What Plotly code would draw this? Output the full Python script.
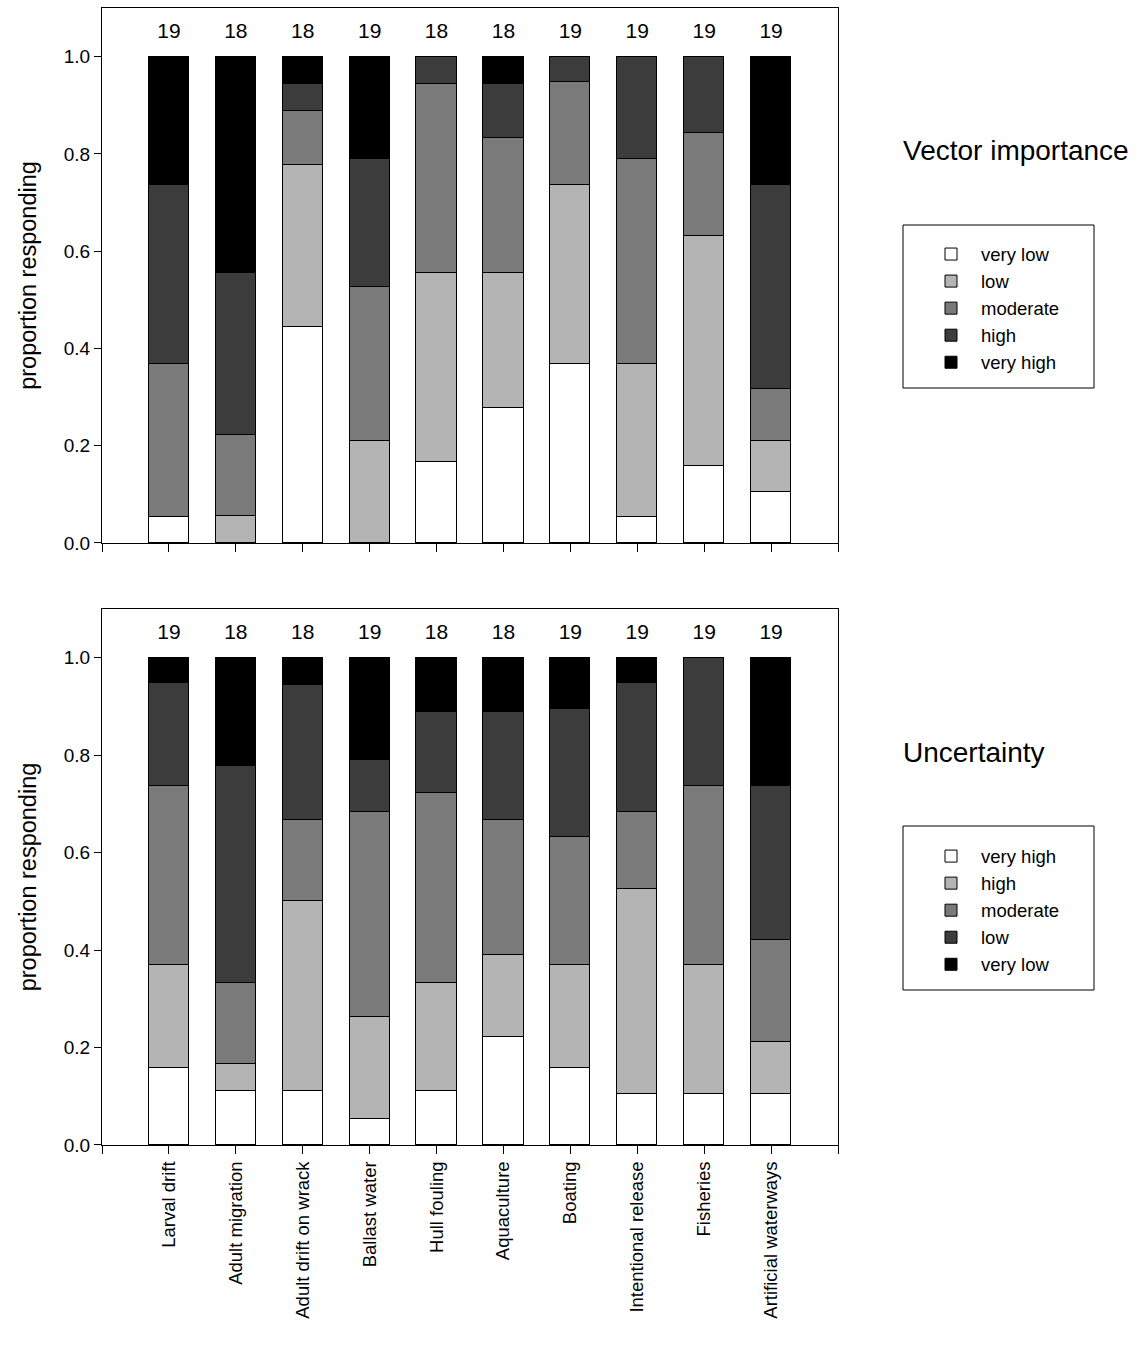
import plotly.graph_objects as go

categories = ["Larval drift", "Adult migration", "Adult drift on wrack", "Ballast water",
              "Hull fouling", "Aquaculture", "Boating", "Intentional release",
              "Fisheries", "Artificial waterways"]
n_respond = [19, 18, 18, 19, 18, 18, 19, 19, 19, 19]

# Vector importance (counts of respondents)
imp_labels = ["very low", "low", "moderate", "high", "very high"]
imp_very_low = [1, 0, 8, 0, 3, 5, 7, 1, 3, 2]
imp_low = [0, 1, 6, 4, 7, 5, 7, 6, 9, 2]
imp_moderate = [6, 3, 2, 6, 7, 5, 4, 8, 4, 2]
imp_high = [7, 6, 1, 5, 1, 2, 1, 4, 3, 8]
imp_very_high = [5, 8, 1, 4, 0, 1, 0, 0, 0, 5]

# Uncertainty (counts of respondents)
unc_labels = ["very high", "high", "moderate", "low", "very low"]
unc_very_high = [3, 2, 2, 1, 2, 4, 3, 2, 2, 2]
unc_high = [4, 1, 7, 4, 4, 3, 4, 8, 5, 2]
unc_moderate = [7, 3, 3, 8, 7, 5, 5, 3, 7, 4]
unc_low = [4, 8, 5, 2, 3, 4, 5, 5, 5, 6]
unc_very_low = [1, 4, 1, 4, 2, 2, 2, 1, 0, 5]

fills = ["#ffffff", "#b4b4b4", "#7a7a7a", "#3c3c3c", "#000000"]
FONT = "Liberation Sans, Arial, sans-serif"

xpos = list(range(len(categories)))

fig = go.Figure()

def add_panel(series, labels, xa, ya, legend):
    for vals, lab, col in zip(series, labels, fills):
        props = [v / n for v, n in zip(vals, n_respond)]
        fig.add_trace(go.Bar(
            x=xpos, y=props, name=lab, width=0.6,
            marker=dict(color=col, line=dict(color="black", width=1)),
            xaxis=xa, yaxis=ya, legend=legend,
            hovertext=categories,
        ))
    fig.add_trace(go.Scatter(
        x=xpos, y=[1.05] * len(xpos), mode="text",
        text=[str(n) for n in n_respond],
        textfont=dict(size=21, color="black", family=FONT),
        xaxis=xa, yaxis=ya, showlegend=False, hoverinfo="skip",
    ))

add_panel([imp_very_low, imp_low, imp_moderate, imp_high, imp_very_high],
          imp_labels, "x", "y", "legend")
add_panel([unc_very_high, unc_high, unc_moderate, unc_low, unc_very_low],
          unc_labels, "x2", "y2", "legend2")

tickvals = list(range(-1, len(categories) + 1))
axis_common = dict(showline=True, linecolor="black", linewidth=1, mirror=True,
                   ticks="outside", tickcolor="black", showgrid=False, zeroline=False)
ytitle = dict(text="proportion responding", font=dict(size=23.5), standoff=20)

fig.update_layout(
    width=1148, height=1347,
    margin=dict(l=102, r=310, t=8, b=202),
    paper_bgcolor="white", plot_bgcolor="white",
    barmode="stack", bargap=0,
    font=dict(family=FONT, size=19, color="black"),
    xaxis=dict(domain=[0, 1], range=[-1, len(categories)], tickvals=tickvals,
               ticktext=[""] * len(tickvals), ticklen=8, anchor="y", **axis_common),
    yaxis=dict(domain=[0.5295, 1.0], range=[0, 1.1], tickvals=[0, 0.2, 0.4, 0.6, 0.8, 1.0],
               tickformat=".1f", ticklen=7, anchor="x", tickfont=dict(size=19),
               title=ytitle, **axis_common),
    xaxis2=dict(domain=[0, 1], range=[-1, len(categories)], tickvals=tickvals,
                ticktext=[""] + categories + [""], tickangle=-90, ticklen=8,
                anchor="y2", tickfont=dict(size=18.5), **axis_common),
    yaxis2=dict(domain=[0, 0.4714], range=[0, 1.1], tickvals=[0, 0.2, 0.4, 0.6, 0.8, 1.0],
                tickformat=".1f", ticklen=7, anchor="x2", tickfont=dict(size=19),
                title=ytitle, **axis_common),
    legend=dict(x=(921 - 102) / 736, y=0.7999, xanchor="left", yanchor="top",
                traceorder="normal", bgcolor="rgba(0,0,0,0)", borderwidth=0,
                font=dict(size=18.5), itemwidth=50, tracegroupgap=0),
    legend2=dict(x=(921 - 102) / 736, y=0.2704, xanchor="left", yanchor="top",
                 traceorder="normal", bgcolor="rgba(0,0,0,0)", borderwidth=0,
                 font=dict(size=18.5), itemwidth=50, tracegroupgap=0),
    showlegend=True,
    annotations=[
        dict(text="Vector importance", xref="paper", yref="paper",
             x=(901 - 102) / 736, y=(1145 - 150.5) / 1137, xanchor="left", yanchor="middle",
             showarrow=False, font=dict(size=28)),
        dict(text="Uncertainty", xref="paper", yref="paper",
             x=(901 - 102) / 736, y=(1145 - 752) / 1137, xanchor="left", yanchor="middle",
             showarrow=False, font=dict(size=28)),
    ],
    shapes=[
        dict(type="rect", xref="paper", yref="paper",
             x0=(903 - 102) / 736, x1=(1094 - 102) / 736,
             y0=(1145 - 388) / 1137, y1=(1145 - 225) / 1137,
             line=dict(color="black", width=1)),
        dict(type="rect", xref="paper", yref="paper",
             x0=(903 - 102) / 736, x1=(1094 - 102) / 736,
             y0=(1145 - 990) / 1137, y1=(1145 - 826) / 1137,
             line=dict(color="black", width=1)),
    ],
)

fig.write_html("out.html")
